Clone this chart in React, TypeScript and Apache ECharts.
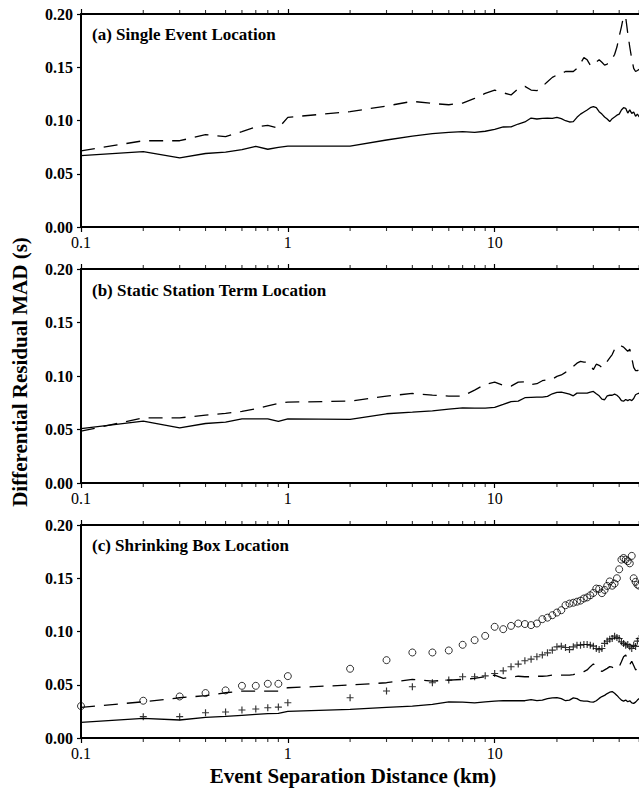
import React, { useEffect, useRef } from "react";
import * as echarts from "echarts";

// Event separation distance (km)
const distances = [
  0.1, 0.2, 0.3, 0.4, 0.5, 0.6, 0.7, 0.8, 0.9,
  1, 2, 3, 4, 5, 6, 7, 8, 9, 10,
  11, 12, 13, 14, 15, 16, 17, 18, 19, 20,
  21, 22, 23, 24, 25, 26, 27, 28, 29, 30,
  31, 32, 33, 34, 35, 36, 37, 38, 39, 40,
  41, 42, 43, 44, 45, 46, 47, 48, 49, 50,
];

// (a) Single Event Location
const singleSolid = [
  0.067, 0.0707, 0.065, 0.069, 0.0704, 0.0726, 0.0758, 0.073, 0.0748,
  0.076, 0.076, 0.0817, 0.0854, 0.0876, 0.0889, 0.0895, 0.0889, 0.0899, 0.0917,
  0.0939, 0.094, 0.0967, 0.0986, 0.1023, 0.1014, 0.102, 0.1023, 0.102, 0.103,
  0.1017, 0.0998, 0.0986, 0.099, 0.103, 0.106, 0.108, 0.1099, 0.112, 0.113,
  0.112, 0.1083, 0.106, 0.1033, 0.1014, 0.099, 0.1017, 0.1033, 0.105, 0.106,
  0.1099, 0.112, 0.1114, 0.107, 0.11, 0.1067, 0.108, 0.104, 0.106, 0.1033,
];
const singleDashed = [
  0.0714, 0.081, 0.081, 0.0867, 0.0848, 0.0895, 0.0939, 0.0955, 0.0927,
  0.103, 0.1083, 0.1136, 0.118, 0.116, 0.1148, 0.1164, 0.1208, 0.1255, 0.1286,
  0.126, 0.124, 0.13, 0.132, 0.1286, 0.128, 0.132, 0.1364, 0.1405, 0.1427,
  0.144, 0.146, 0.146, 0.146, 0.149, 0.1537, 0.159, 0.157, 0.152, 0.1515,
  0.155, 0.157, 0.1547, 0.152, 0.153, 0.155, 0.158, 0.162, 0.169, 0.179,
  0.188, 0.198, 0.197, 0.182, 0.169, 0.158, 0.149, 0.146, 0.147, 0.148,
];

// (b) Static Station Term Location
const staticSolid = [
  0.0509, 0.0578, 0.0515, 0.0556, 0.0568, 0.06, 0.06, 0.06, 0.0575,
  0.06, 0.0594, 0.0647, 0.0662, 0.0675, 0.069, 0.0703, 0.07, 0.07, 0.0706,
  0.0734, 0.076, 0.0765, 0.0797, 0.08, 0.0803, 0.0803, 0.081, 0.0834, 0.0847,
  0.085, 0.084, 0.083, 0.0815, 0.084, 0.084, 0.084, 0.084, 0.085, 0.0856,
  0.0834, 0.0815, 0.0784, 0.0778, 0.0815, 0.082, 0.082, 0.083, 0.082, 0.08,
  0.077, 0.0765, 0.078, 0.077, 0.078, 0.077, 0.079, 0.0825, 0.0834, 0.084,
];
const staticDashed = [
  0.0484, 0.0609, 0.0609, 0.0634, 0.065, 0.067, 0.0694, 0.072, 0.0743,
  0.0756, 0.0765, 0.0812, 0.0837, 0.0822, 0.0812, 0.0812, 0.0868, 0.0922, 0.0943,
  0.0912, 0.0906, 0.0943, 0.0946, 0.092, 0.0928, 0.0956, 0.0965, 0.097, 0.0996,
  0.101, 0.1034, 0.1065, 0.109, 0.112, 0.1137, 0.113, 0.113, 0.11, 0.106,
  0.111, 0.11, 0.108, 0.109, 0.1137, 0.117, 0.12, 0.125, 0.1275, 0.129,
  0.128, 0.127, 0.125, 0.123, 0.125, 0.117, 0.108, 0.105, 0.105, 0.106,
];

// (c) Shrinking Box Location
const shrinkSolid = [
  0.0147, 0.0184, 0.0169, 0.0194, 0.0203, 0.0213, 0.0222, 0.0228, 0.0231,
  0.025, 0.0269, 0.0288, 0.03, 0.0316, 0.034, 0.0337, 0.033, 0.034, 0.0347,
  0.035, 0.035, 0.035, 0.035, 0.036, 0.035, 0.0356, 0.037, 0.0377, 0.038,
  0.037, 0.035, 0.0356, 0.0377, 0.037, 0.035, 0.0347, 0.0347, 0.034, 0.0337,
  0.035, 0.0372, 0.0389, 0.04, 0.0417, 0.043, 0.0436, 0.042, 0.04, 0.0377,
  0.0356, 0.0347, 0.0356, 0.034, 0.035, 0.033, 0.0325, 0.0337, 0.0356, 0.0372,
];
const shrinkDashed = [
  0.0288, 0.034, 0.0378, 0.0397, 0.0425, 0.0441, 0.0441, 0.0441, 0.0441,
  0.0472, 0.0497, 0.0519, 0.055, 0.0534, 0.0544, 0.055, 0.056, 0.0575, 0.059,
  0.056, 0.057, 0.058, 0.0575, 0.0575, 0.058, 0.058, 0.0583, 0.059, 0.059,
  0.059, 0.059, 0.059, 0.0595, 0.0607, 0.0615, 0.0624, 0.0639, 0.067, 0.0696,
  0.067, 0.0644, 0.0624, 0.064, 0.0654, 0.067, 0.0665, 0.0644, 0.0654, 0.067,
  0.0716, 0.0763, 0.078, 0.073, 0.069, 0.072, 0.068, 0.064, 0.065, 0.066,
];
const shrinkCircles = [
  0.03, 0.035, 0.039, 0.0422, 0.0447, 0.049, 0.049, 0.0509, 0.0509,
  0.0581, 0.065, 0.0731, 0.0803, 0.0803, 0.0822, 0.0875, 0.0919, 0.0959, 0.1044,
  0.1022, 0.1053, 0.1075, 0.107, 0.106, 0.1075, 0.1116, 0.113, 0.1153, 0.1178,
  0.12, 0.1247, 0.1262, 0.127, 0.128, 0.129, 0.131, 0.132, 0.134, 0.1362,
  0.1403, 0.14, 0.136, 0.139, 0.1428, 0.147, 0.143, 0.145, 0.15, 0.1584,
  0.1675, 0.169, 0.1675, 0.166, 0.164, 0.171, 0.15, 0.1466, 0.144, 0.143,
];
const shrinkCrosses = [
  null, 0.02, 0.02, 0.0237, 0.0244, 0.0263, 0.0272, 0.0284, 0.029,
  0.0331, 0.0378, 0.0441, 0.0481, 0.0519, 0.0544, 0.0575, 0.0575, 0.0584, 0.0606,
  0.0631, 0.0669, 0.0694, 0.0725, 0.074, 0.0763, 0.078, 0.08, 0.0825, 0.0856,
  0.0862, 0.085, 0.083, 0.0856, 0.0872, 0.0872, 0.0878, 0.0878, 0.0872, 0.0862,
  0.084, 0.083, 0.084, 0.0888, 0.091, 0.0928, 0.0934, 0.0956, 0.0944, 0.0934,
  0.0903, 0.0888, 0.0872, 0.0878, 0.0856, 0.084, 0.087, 0.086, 0.091, 0.0934,
];

// Log-axis minor tick positions (km)
const minorTickValues = [
  0.2, 0.3, 0.4, 0.5, 0.6, 0.7, 0.8, 0.9,
  2, 3, 4, 5, 6, 7, 8, 9,
  20, 30, 40, 50, 60, 70, 80, 90,
];

const panelTitles = [
  "(a) Single Event Location",
  "(b) Static Station Term Location",
  "(c) Shrinking Box Location",
];
const yTitle = "Differential Residual MAD (s)";
const xTitle = "Event Separation Distance (km)";

const SERIF = "'Liberation Serif', 'Times New Roman', serif";
const BLACK = "#000";

const pair = (vals: (number | null)[]) =>
  distances.map((d, i) => [d, vals[i]]).filter((p) => p[1] !== null);

export default function App() {
  const ref = useRef<HTMLDivElement>(null);

  useEffect(() => {
    if (!ref.current) return;
    const chart = echarts.init(ref.current, null, { renderer: "svg" });

    const gridTops = [14, 269, 525];
    const gridHeights = [213, 214, 213];

    const grids = gridTops.map((t, i) => ({
      left: 81,
      width: 620.5,
      top: t,
      height: gridHeights[i],
      containLabel: false,
    }));

    const xAxes: any[] = [];
    const yAxes: any[] = [];
    gridTops.forEach((_, i) => {
      const base = {
        type: "log",
        logBase: 10,
        gridIndex: i,
        min: 0.1,
        max: 100,
        axisLine: { show: true, onZero: false, lineStyle: { color: BLACK, width: 2 } },
        axisTick: { show: true, length: 5, lineStyle: { color: BLACK, width: 1.2 } },
        splitLine: { show: false },
        minorTick: { show: false },
      };
      xAxes.push({
        ...base,
        position: "bottom",
        axisLabel: {
          show: true,
          fontFamily: SERIF,
          fontSize: 16,
          color: BLACK,
          margin: 7,
          showMaxLabel: false,
          formatter: (v: number) =>
            v >= 50 ? "" : v < 1 ? v.toFixed(1) : String(Math.round(v)),
        },
      });
      xAxes.push({
        ...base,
        position: "top",
        axisLabel: { show: false },
      });
      yAxes.push({
        type: "value",
        gridIndex: i,
        min: 0,
        max: 0.2,
        interval: 0.05,
        axisLine: { show: true, lineStyle: { color: BLACK, width: 2 } },
        axisTick: { show: true, length: 4, lineStyle: { color: BLACK, width: 1.2 } },
        splitLine: { show: false },
        axisLabel: {
          fontFamily: SERIF,
          fontSize: 16,
          fontWeight: "bold",
          color: BLACK,
          margin: 8,
          formatter: (v: number) => v.toFixed(2),
        },
      });
    });

    const solid = (vals: number[], i: number) => ({
      type: "line",
      xAxisIndex: 2 * i,
      yAxisIndex: i,
      data: pair(vals),
      showSymbol: false,
      symbol: "none",
      lineStyle: { color: BLACK, width: 1.3 },
      silent: true,
      z: 3,
    });
    const dashed = (vals: number[], i: number) => ({
      type: "line",
      xAxisIndex: 2 * i,
      yAxisIndex: i,
      data: pair(vals),
      showSymbol: false,
      symbol: "none",
      lineStyle: { color: BLACK, width: 1.3, type: [14, 9] },
      silent: true,
      z: 3,
    });
    const tickSeries = (i: number) => [
      {
        type: "scatter",
        xAxisIndex: 2 * i,
        yAxisIndex: i,
        data: minorTickValues.map((v) => [v, 0]),
        symbol: "rect",
        symbolSize: [1.1, 3],
        symbolOffset: [0, 2.5],
        itemStyle: { color: BLACK },
        clip: false,
        silent: true,
        z: 5,
      },
      {
        type: "scatter",
        xAxisIndex: 2 * i,
        yAxisIndex: i,
        data: minorTickValues.map((v) => [v, 0.2]),
        symbol: "rect",
        symbolSize: [1.1, 3],
        symbolOffset: [0, -2.5],
        itemStyle: { color: BLACK },
        clip: false,
        silent: true,
        z: 5,
      },
    ];

    const series: any[] = [
      solid(singleSolid, 0),
      dashed(singleDashed, 0),
      solid(staticSolid, 1),
      dashed(staticDashed, 1),
      solid(shrinkSolid, 2),
      dashed(shrinkDashed, 2),
      {
        type: "scatter",
        xAxisIndex: 4,
        yAxisIndex: 2,
        data: pair(shrinkCircles),
        symbol: "circle",
        symbolSize: 7,
        itemStyle: { color: "rgba(0,0,0,0)", borderColor: BLACK, borderWidth: 1 },
        silent: true,
        z: 4,
      },
      {
        type: "scatter",
        xAxisIndex: 4,
        yAxisIndex: 2,
        data: pair(shrinkCrosses),
        symbol: "path://M0,5H12V7H0Z M5,0H7V12H5Z",
        symbolSize: 7,
        itemStyle: { color: BLACK },
        silent: true,
        z: 4,
      },
      ...tickSeries(0),
      ...tickSeries(1),
      ...tickSeries(2),
    ];

    const titleYs = [36, 291.5, 547];
    const graphic: any[] = panelTitles.map((t, i) => ({
      type: "text",
      left: 92,
      top: titleYs[i] - 10,
      style: {
        text: t,
        font: `bold 17px ${SERIF}`,
        fill: BLACK,
      },
      silent: true,
    }));
    graphic.push({
      type: "text",
      x: 20,
      y: 372,
      rotation: Math.PI / 2,
      style: {
        text: yTitle,
        font: `bold 21px ${SERIF}`,
        fill: BLACK,
        textAlign: "center",
        textVerticalAlign: "middle",
      },
      silent: true,
    });
    graphic.push({
      type: "text",
      x: 353,
      y: 776,
      style: {
        text: xTitle,
        font: `bold 21px ${SERIF}`,
        fill: BLACK,
        textAlign: "center",
        textVerticalAlign: "middle",
      },
      silent: true,
    });

    chart.setOption({
      animation: false,
      backgroundColor: "#fff",
      grid: grids,
      xAxis: xAxes,
      yAxis: yAxes,
      series,
      graphic,
    });

    return () => chart.dispose();
  }, []);

  return (
    <div
      style={{
        position: "absolute",
        left: 0,
        top: 0,
        width: 639,
        height: 795,
        background: "#fff",
        overflow: "hidden",
      }}
    >
      <div ref={ref} style={{ width: 712, height: 795 }} />
    </div>
  );
}
